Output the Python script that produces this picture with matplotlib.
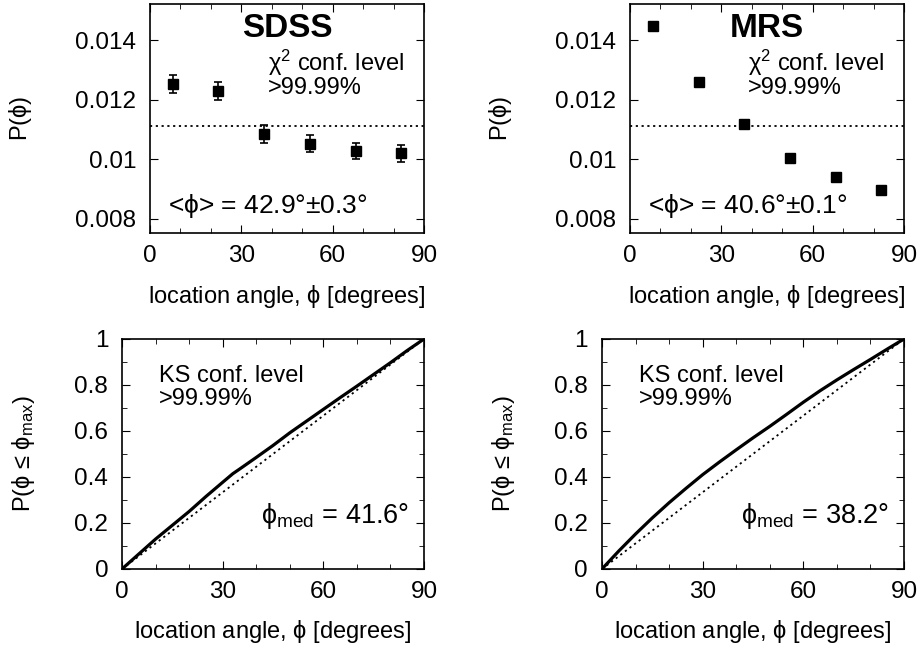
import matplotlib
matplotlib.use("Agg")
import matplotlib.pyplot as plt
import matplotlib.ticker as ticker

# binned distributions P(phi), 15-degree bins
bin_centers = [7.5, 22.5, 37.5, 52.5, 67.5, 82.5]
sdss_p = [0.01254, 0.01229, 0.01086, 0.01053, 0.01028, 0.01021]
sdss_err = [0.00030, 0.00030, 0.00030, 0.00028, 0.00028, 0.00028]
mrs_p = [0.01447, 0.01260, 0.01118, 0.01006, 0.00941, 0.00898]

# cumulative distributions P(phi <= phi_max)
cdf_phi = [0, 5, 10, 15, 20, 25, 30, 33, 35, 40, 45, 50, 55, 60, 65, 70, 75, 80, 85, 90]
sdss_cdf = [0, 0.065, 0.13, 0.19, 0.25, 0.315, 0.377, 0.414, 0.434, 0.485, 0.537,
            0.592, 0.643, 0.694, 0.745, 0.795, 0.846, 0.897, 0.95, 1.0]
mrs_cdf = [0, 0.078, 0.152, 0.222, 0.288, 0.35, 0.41, 0.443, 0.465, 0.518, 0.57,
           0.62, 0.672, 0.725, 0.775, 0.822, 0.867, 0.911, 0.956, 1.0]

uniform_p = 1 / 90

plt.rcParams.update({
    "font.family": ["Liberation Sans", "DejaVu Sans"],
    "font.size": 17.5,
    "mathtext.fontset": "custom",
    "mathtext.rm": "Liberation Sans",
    "mathtext.it": "Liberation Sans",
    "mathtext.bf": "Liberation Sans:bold",
    "mathtext.default": "regular",
    "axes.linewidth": 1.2,
    "xtick.direction": "in",
    "ytick.direction": "in",
    "xtick.top": True,
    "ytick.right": True,
    "xtick.major.size": 6,
    "ytick.major.size": 6,
    "xtick.minor.size": 3.5,
    "ytick.minor.size": 3.5,
    "xtick.major.pad": 9,
    "ytick.major.pad": 10,
})

fmt = ticker.FuncFormatter(lambda v, _: f"{v:g}")
xlabel = r"location angle, $\phi$ [degrees]"

fig = plt.figure(figsize=(9.23, 6.51), dpi=100)
ax_tl = fig.add_axes([0.1625, 0.6421, 0.2969, 0.3518])
ax_tr = fig.add_axes([0.6826, 0.6421, 0.2969, 0.3518])
ax_bl = fig.add_axes([0.1322, 0.1260, 0.3272, 0.3533])
ax_br = fig.add_axes([0.6522, 0.1260, 0.3272, 0.3533])


def style_axes(ax):
    ax.set_xlim(0, 90)
    ax.xaxis.set_major_locator(ticker.MultipleLocator(30))
    ax.xaxis.set_minor_locator(ticker.MultipleLocator(10))
    ax.xaxis.set_major_formatter(fmt)
    ax.yaxis.set_major_formatter(fmt)
    ax.set_xlabel(xlabel, fontsize=17)


# top row: binned P(phi)
for ax, vals, err, name, mean in [
    (ax_tl, sdss_p, sdss_err, "SDSS", r"<$\phi$> = 42.9°±0.3°"),
    (ax_tr, mrs_p, None, "MRS", r"<$\phi$> = 40.6°±0.1°"),
]:
    style_axes(ax)
    ax.set_ylim(0.00753, 0.01522)
    ax.yaxis.set_major_locator(ticker.MultipleLocator(0.002))
    ax.axhline(uniform_p, color="black", lw=1.3, ls=(0, (1.2, 2.0)))
    ax.errorbar(bin_centers, vals, yerr=err, fmt="s", color="black", ms=6.5,
                capsize=3, elinewidth=1.2, capthick=1.2)
    ax.set_ylabel(r"P($\phi$)", fontsize=17)
    ax.xaxis.set_label_coords(0.5, -0.218)
    ax.yaxis.set_label_coords(-0.425, 0.5)
    ax.text(45, 0.0144, name, ha="center", va="center", fontsize=24, fontweight="bold")
    ax.text(38.8, 0.01297, r"$\chi^2$ conf. level", fontsize=17)
    ax.text(38.8, 0.01221, ">99.99%", fontsize=17)
    ax.text(6, 0.0082, mean, fontsize=19)

# bottom row: cumulative distributions
for ax, cdf, med in [(ax_bl, sdss_cdf, "41.6"), (ax_br, mrs_cdf, "38.2")]:
    style_axes(ax)
    ax.set_ylim(0, 1)
    ax.yaxis.set_major_locator(ticker.MultipleLocator(0.2))
    ax.yaxis.set_minor_locator(ticker.MultipleLocator(0.1))
    ax.plot([0, 90], [0, 1], color="black", lw=1.3, ls=(0, (1.2, 2.0)))
    ax.plot(cdf_phi, cdf, color="black", lw=2.3)
    ax.set_ylabel(r"P($\phi$ ≤ $\phi_{max}$)", fontsize=17)
    ax.xaxis.set_label_coords(0.5, -0.213)
    ax.yaxis.set_label_coords(-0.28, 0.5)
    ax.text(10.9, 0.815, "KS conf. level", fontsize=17)
    ax.text(10.9, 0.713, ">99.99%", fontsize=17)
    ax.text(41.5, 0.2, r"$\phi_{med}$ = " + med + "°", fontsize=19.5)

fig.savefig("out.png", dpi=100)
